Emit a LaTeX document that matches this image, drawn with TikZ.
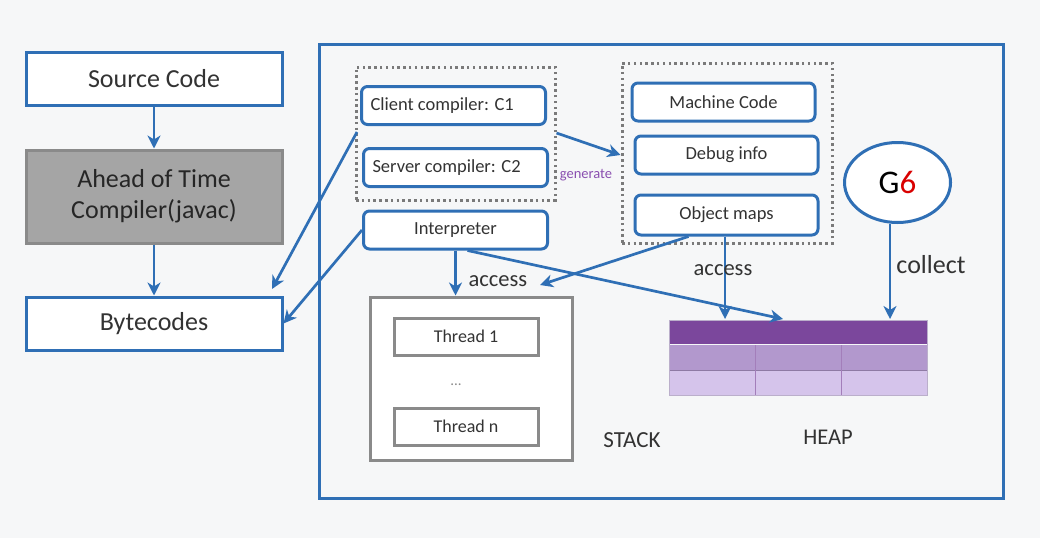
\documentclass[tikz,border=0pt]{standalone}
\usepackage{fontspec}
\setmainfont{Carlito}
\usetikzlibrary{arrows.meta,shapes.geometric}
\definecolor{bl}{HTML}{2F6FB5}
\definecolor{bgc}{HTML}{F6F7F8}
\definecolor{gbox}{HTML}{A5A5A5}
\definecolor{gline}{HTML}{8A8A8A}
\definecolor{dline}{HTML}{7A7A7A}
\definecolor{txt}{HTML}{333333}
\definecolor{p1}{HTML}{7B479C}
\definecolor{p2}{HTML}{B298CD}
\definecolor{p3}{HTML}{D5C4EB}
\definecolor{gen}{HTML}{8A4FB0}
\tikzset{
  mainbox/.style={draw=bl,line width=3pt,fill=white,minimum width=256pt,minimum height=53pt,font=\fontsize{26}{31}\selectfont,text=txt},
  innerbox/.style={draw=bl,line width=3pt,rounded corners=6pt,fill=white,minimum width=184pt,minimum height=38pt,font=\fontsize{18.5}{22}\selectfont,text=txt},
  leftbox/.style={innerbox,inner xsep=9pt,text width=166pt,align=flush left},
  thrbox/.style={draw=gline,line width=3pt,fill=white,minimum width=144pt,minimum height=37pt,font=\fontsize{18}{22}\selectfont,text=txt},
  dotbox/.style={draw=dline,line width=3pt,dash pattern=on 2.5pt off 3.3pt},
  arr/.style={draw=bl,line width=2.7pt,-{Stealth[length=13pt,width=13pt,inset=4pt]}},
  lbl/.style={font=\fontsize{22.5}{26}\selectfont,text=txt},
}
\begin{document}
\begin{tikzpicture}[x=1pt,y=-1pt]
\useasboundingbox (0,0) rectangle (1040,538);
\fill[bgc] (0,0) rectangle (1040,538);
% left column
\node[mainbox] (src) at (154,78.5) {Source Code};
\node[mainbox,fill=gbox,draw=gline,minimum height=93pt,align=center,text=black!85] (aot) at (154,196.5) {Ahead of Time\\Compiler(javac)};
\node[mainbox] (byte) at (154,323.5) {Bytecodes};
\draw[arr] (src) -- (aot);
\draw[arr] (aot) -- (byte);
% container
\node[draw=bl,line width=3pt,minimum width=684pt,minimum height=454pt,inner sep=0pt] (jvm) at (661,271) {};
% dotted groups
\node[dotbox,minimum width=199pt,minimum height=133pt,inner sep=0pt] (g1) at (455.5,133.5) {};
\node[dotbox,minimum width=210pt,minimum height=180pt,inner sep=0pt] (g2) at (727,153) {};
\node[leftbox] (c1) at (453.5,105.5) {Client compiler: C1};
\node[leftbox] (c2) at (455.5,167.5) {Server compiler: C2};
\node[innerbox] (intp) at (455.5,230) {Interpreter};
\node[innerbox,minimum width=183pt] (mc) at (723.5,102) {Machine Code};
\node[innerbox,minimum width=183pt] (dbg) at (726.5,155) {Debug info};
\node[innerbox,minimum width=183pt,minimum height=40pt] (om) at (726.5,215) {Object maps};
\node[font=\fontsize{14.5}{17}\selectfont,text=gen] (genl) at (586,175) {generate};
% GC ellipse
\node[ellipse,draw=bl,line width=3pt,fill=white,minimum width=106pt,minimum height=80pt,inner sep=0pt,font=\fontsize{33}{36}\selectfont] (gc) at (897.5,182.5) {G\textcolor{red!85!black}{6}};
% stack
\node[draw=gline,line width=3pt,fill=white,minimum width=202pt,minimum height=163pt,inner sep=0pt] (stack) at (471,378.5) {};
\node[thrbox] (t1) at (466,336.5) {Thread 1};
\node[text=gline,font=\fontsize{15}{17}\selectfont] (dots) at (456,385) {...};
\node[thrbox] (tn) at (466,426.5) {Thread n};
\node[font=\fontsize{23}{27}\selectfont,text=txt] (stl) at (632,440) {STACK};
% heap
\fill[p1] (669,320) rectangle (927,344);
\fill[p2] (669,345) rectangle (927,370);
\fill[p3] (669,370) rectangle (927,395);
\draw[p2!80!black,line width=0.6pt] (669,370) -- (927,370);
\draw[p1!70,line width=0.8pt] (755,345) -- (755,395) (841,345) -- (841,395);
\draw[p3!70!gray,line width=0.6pt] (669,320) rectangle (927,395);
\node[font=\fontsize{22.5}{27}\selectfont,text=txt] (hpl) at (828,437) {HEAP};
% connectors
\coordinate (stkacc) at (540,285);
\coordinate (heapA) at (725,319);
\coordinate (heapB) at (783,319);
\coordinate (heapC) at (890,319);
\coordinate (b1) at (272,289);
\draw[arr] (g1.east |- 0,133) -- (g2.west |- 0,155);
\draw[arr] (357,132) -- (b1);
\draw[arr] (intp.west) -- (byte.east);
\draw[arr] (intp.south) -- (stack.north -| intp.south);
\draw[arr] (intp.south) ++(12,0) -- (heapB);
\draw[arr] (om.south west) ++(55,0) -- (stkacc);
\draw[arr] (om.south -| heapA) -- (heapA);
\draw[arr] (gc.south -| heapC) -- (heapC);
\node[lbl,anchor=west] (acc1) at (465,281) {access};
\node[lbl] (acc2) at (723,270) {access};
\node[lbl,font=\fontsize{26}{30}\selectfont] (coll) at (931,265) {collect};
\end{tikzpicture}
\end{document}
